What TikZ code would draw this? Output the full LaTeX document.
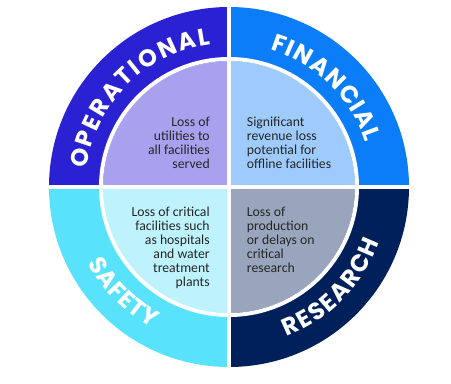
\documentclass[tikz,border=0pt]{standalone}
\usepackage{fontspec}
\setmainfont{Carlito}
\newfontfamily\capfam{Poppins}
\usetikzlibrary{decorations.text}
\definecolor{opBand}{HTML}{2A21D3}
\definecolor{opCore}{HTML}{A8A2EE}
\definecolor{finBand}{HTML}{0C7DF8}
\definecolor{finCore}{HTML}{9ECBFC}
\definecolor{safBand}{HTML}{58E2FB}
\definecolor{safCore}{HTML}{BEF3FD}
\definecolor{resBand}{HTML}{00205B}
\definecolor{resCore}{HTML}{98A5BC}
\newcommand\bandfont{\capfam\bfseries\fontsize{18}{20}\selectfont}
\tikzset{
  coretext/.style={font=\fontsize{10.3}{10.5}\selectfont, text=black!85, inner sep=0pt},
  lefttext/.style={coretext, align=right, anchor=north east},
  righttext/.style={coretext, align=left, anchor=north west},
  gap/.style={draw=white, line width=3pt},
  bandlabel/.style={decorate, decoration={text along path, text color=white,
              text align={fit to path}}},
}
\begin{document}
\begin{tikzpicture}[x=0.75pt,y=0.75pt]
  \useasboundingbox (0,0) rectangle (451,383);
  \begin{scope}[shift={(229,196)}]
    \foreach \a/\band/\core in {90/opBand/opCore,0/finBand/finCore,180/safBand/safCore,270/resBand/resCore}{
      \fill[\band] (0,0) -- (\a:180) arc[start angle=\a,end angle=\a+90,radius=180] -- cycle;
      \fill[\core] (0,0) -- (\a:126) arc[start angle=\a,end angle=\a+90,radius=126] -- cycle;
    }
    \draw[gap] (0,0) circle[radius=128];
    \draw[gap] (0,-182) -- (0,182);
    \draw[gap] (-182,0) -- (182,0);

    \path[bandlabel, decoration={text={|\bandfont|OPERATIONAL}}]
      (172.8:143.5) arc[start angle=172.8,end angle=97.2,radius=143.5];
    \path[bandlabel, decoration={text={|\bandfont|FINANCIAL}}]
      (73.3:143.5) arc[start angle=73.3,end angle=18,radius=143.5];
    \path[bandlabel, decoration={text={|\bandfont|SAFETY}}]
      (208.3:160.5) arc[start angle=208.3,end angle=241.4,radius=160.5];
    \path[bandlabel, decoration={text={|\bandfont|RESEARCH}}]
      (291.1:160.5) arc[start angle=291.1,end angle=339.8,radius=160.5];

    \node[lefttext] (opText) at (-19,69.8) {Loss of\\utilities to\\all facilities\\served};
    \node[righttext] (finText) at (17.7,69.8) {Significant\\revenue loss\\potential for\\offline facilities};
    \node[lefttext] (safText) at (-19,-20) {Loss of critical\\facilities such\\as hospitals\\and water\\treatment\\plants};
    \node[righttext] (resText) at (17.7,-20) {Loss of\\production\\or delays on\\critical\\research};
  \end{scope}
\end{tikzpicture}
\end{document}
